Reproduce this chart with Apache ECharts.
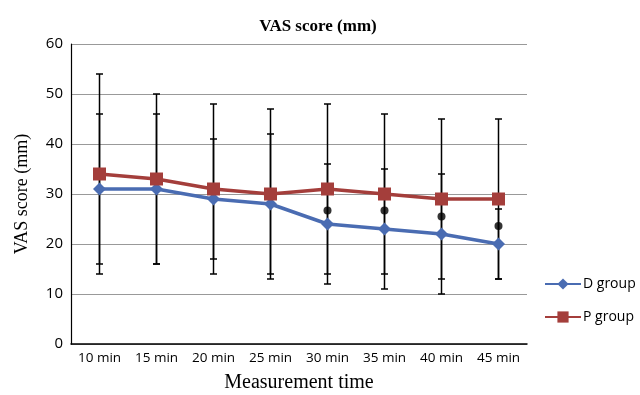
<!DOCTYPE html>
<html>
<head>
<meta charset="utf-8">
<script src="https://cdn.jsdelivr.net/npm/echarts@6/dist/echarts.min.js"></script>
<style>
  html, body { margin: 0; padding: 0; background: #fff; }
  #chart { width: 640px; height: 395px; }
</style>
</head>
<body>
<div id="chart"></div>
<script>
const categories = ['10 min', '15 min', '20 min', '25 min', '30 min', '35 min', '40 min', '45 min']
const dMean = [31, 31, 29, 28, 24, 23, 22, 20]
const dLow = [16, 16, 17, 14, 12, 11, 10, 13]
const dHigh = [46, 46, 41, 42, 36, 35, 34, 27]
const pMean = [34, 33, 31, 30, 31, 30, 29, 29]
const pLow = [14, 16, 14, 13, 14, 14, 13, 13]
const pHigh = [54, 50, 48, 47, 48, 46, 45, 45]
// significance dots (category index, value)
const markIndex = [4, 5, 6, 7]
const markValue = [26.7, 26.7, 25.5, 23.6]

const blue = '#4A6CB2'
const red = '#A43E3B'
const serif = '"Liberation Serif", "Times New Roman", serif'
const sans = '"Open Sans", "Liberation Sans", sans-serif'

function errorBarData(low, high) {
  return categories.map((c, i) => [i, low[i], high[i]])
}

function renderErrorBar(params, api) {
  const x = api.value(0)
  const top = api.coord([x, api.value(2)])
  const bottom = api.coord([x, api.value(1)])
  const half = 3.5
  const style = { stroke: '#000', lineWidth: 1.5 }
  return {
    type: 'group',
    children: [
      { type: 'line', shape: { x1: top[0], y1: top[1], x2: bottom[0], y2: bottom[1] }, style },
      { type: 'line', shape: { x1: top[0] - half, y1: top[1], x2: top[0] + half, y2: top[1] }, style },
      { type: 'line', shape: { x1: bottom[0] - half, y1: bottom[1], x2: bottom[0] + half, y2: bottom[1] }, style }
    ]
  }
}

const chart = echarts.init(document.getElementById('chart'))

const option = {
  animation: false,
  backgroundColor: '#fff',
  title: {
    text: 'VAS score (mm)',
    left: 313,
    textAlign: 'center',
    top: 13,
    textStyle: { fontFamily: serif, fontSize: 17, fontWeight: 'bold', color: '#000' }
  },
  legend: {
    orient: 'vertical',
    left: 544,
    top: 277,
    padding: 0,
    itemGap: 19,
    itemWidth: 36,
    itemHeight: 14,
    data: ['D group', 'P group'],
    textStyle: { fontFamily: sans, fontSize: 14, color: '#000', padding: [0, 0, 0, -3] }
  },
  grid: { left: 71, right: 113, top: 44, bottom: 51, outerBoundsMode: 'none' },
  xAxis: {
    type: 'category',
    data: categories,
    boundaryGap: true,
    axisLine: { lineStyle: { color: '#000', width: 1.5 } },
    axisTick: { show: false },
    axisLabel: { color: '#000', fontFamily: sans, fontSize: 13.5, margin: 7, interval: 0 },
    name: 'Measurement time',
    nameLocation: 'middle',
    nameGap: 29,
    nameTextStyle: { fontFamily: serif, fontSize: 20, color: '#000' }
  },
  yAxis: {
    type: 'value',
    min: 0,
    max: 60,
    interval: 10,
    axisLine: { show: true, lineStyle: { color: '#000', width: 1.2 } },
    axisTick: { show: false },
    axisLabel: { color: '#000', fontFamily: sans, fontSize: 15, margin: 8 },
    splitLine: { lineStyle: { color: '#999', width: 1 } },
    name: 'VAS score (mm)',
    nameLocation: 'middle',
    nameGap: 40,
    nameTextStyle: { fontFamily: serif, fontSize: 18, color: '#000' }
  },
  series: [
    {
      type: 'custom',
      name: 'D error',
      renderItem: renderErrorBar,
      encode: { x: 0, y: [1, 2] },
      data: errorBarData(dLow, dHigh),
      z: 1
    },
    {
      type: 'custom',
      name: 'P error',
      renderItem: renderErrorBar,
      encode: { x: 0, y: [1, 2] },
      data: errorBarData(pLow, pHigh),
      z: 1
    },
    {
      name: 'D group',
      type: 'line',
      data: dMean,
      symbol: 'diamond',
      symbolSize: 13,
      lineStyle: { color: blue, width: 3.5 },
      itemStyle: { color: blue },
      z: 3
    },
    {
      name: 'P group',
      type: 'line',
      data: pMean,
      symbol: 'rect',
      symbolSize: 13,
      lineStyle: { color: red, width: 3.5 },
      itemStyle: { color: red },
      z: 4
    },
    {
      name: 'mark',
      type: 'scatter',
      data: markIndex.map((idx, i) => [idx, markValue[i]]),
      symbol: 'circle',
      symbolSize: 8,
      itemStyle: { color: '#000' },
      z: 5
    }
  ]
}

chart.setOption(option)
</script>
</body>
</html>
